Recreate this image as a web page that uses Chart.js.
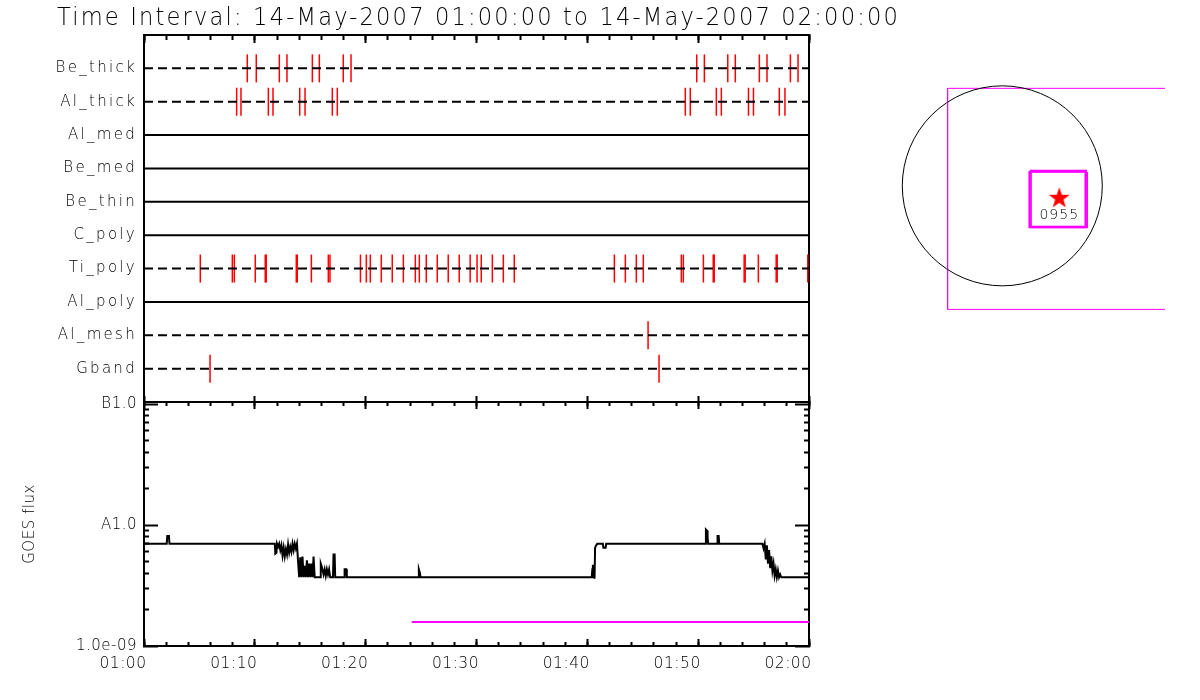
<!DOCTYPE html>
<html>
<head>
<meta charset="utf-8">
<title>RHESSI quicklook 14-May-2007</title>
<script src="https://cdn.jsdelivr.net/npm/chart.js@4.4.0/dist/chart.umd.min.js"></script>
<style>
  body { margin: 0; background: #fff; }
  #wrap { position: relative; width: 1200px; height: 700px; overflow: hidden; background: #fff; }
  canvas { position: absolute; }
  #topPanel { left: 0; top: 0; }
  #goesPanel { left: 0; top: 395px; }
  #mapPanel { left: 880px; top: 70px; }
</style>
</head>
<body>
<div id="wrap">
  <canvas id="topPanel" width="900" height="405" style="width:900px;height:405px"></canvas>
  <canvas id="goesPanel" width="900" height="305" style="width:900px;height:305px"></canvas>
  <canvas id="mapPanel" width="320" height="260" style="width:320px;height:260px"></canvas>
</div>
<script>
'use strict';

//////////////// data ///////////////////

let titleText = 'Time Interval: 14-May-2007 01:00:00 to 14-May-2007 02:00:00';

let rowLabels = ['Be_thick', 'Al_thick', 'Al_med', 'Be_med', 'Be_thin', 'C_poly', 'Ti_poly', 'Al_poly', 'Al_mesh', 'Gband'];
let dashedRows = ['Be_thick', 'Al_thick', 'Ti_poly', 'Al_mesh', 'Gband'];

// state changes, minutes after 01:00
let beThickTimes = [9.32, 10.13, 12.21, 12.90, 15.19, 15.82, 17.98, 18.68, 49.87, 50.56, 52.67, 53.35, 55.52, 56.21, 58.32, 59.01];
let alThickTimes = [8.36, 8.75, 11.22, 11.64, 14.05, 14.53, 16.99, 17.44, 48.84, 49.29, 51.64, 52.09, 54.54, 54.99, 57.32, 57.83];
let tiPolyTimes = [5.08, 7.97, 8.15, 10.04, 10.94, 11.03, 13.74, 13.83, 15.10, 16.63, 16.78, 19.53, 20.06, 20.42,
  21.41, 22.40, 23.40, 24.48, 24.84, 25.47, 26.46, 27.45, 28.44, 29.43, 30.05, 30.43, 31.43, 32.42, 33.41,
  42.44, 43.43, 44.42, 45.05, 48.48, 48.66, 50.47, 51.36, 51.45, 54.15, 54.24, 55.43, 57.04, 57.13, 59.89];
let alMeshTimes = [45.48];
let gbandTimes = [5.96, 46.47];

let timeTicks = [0, 10, 20, 30, 40, 50, 60];
let timeLabels = ['01:00', '01:10', '01:20', '01:30', '01:40', '01:50', '02:00'];

// GOES flux (W/m^2)
let goesTime = [0, 2.05, 2.1, 2.25, 2.3, 11.8, 11.85, 11.95, 12.0, 12.1, 12.2, 12.3, 12.4, 12.5, 12.6, 12.7, 12.8, 12.9,
  13.0, 13.1, 13.2, 13.3, 13.4, 13.5, 13.6, 13.7, 13.8, 13.9, 14.0, 14.1, 14.2, 14.3, 14.4, 14.5, 14.6, 14.7, 14.8, 14.9,
  15.0, 15.1, 15.2, 15.3, 15.4, 15.9, 15.95, 16.05, 16.1, 16.2, 16.3, 16.4, 16.5, 16.6, 16.7, 16.8, 17.05, 17.1, 17.2,
  17.25, 18.05, 18.1, 18.25, 18.3, 24.75, 24.8, 24.9, 24.95, 40.4, 40.45, 40.5, 40.55, 40.6, 40.65, 40.7, 40.8, 40.9,
  41.4, 41.45, 41.65, 41.7, 50.65, 50.7, 50.8, 50.85, 50.9, 51.7, 51.75, 51.85, 51.9, 55.8, 55.9, 56.0, 56.1, 56.2,
  56.3, 56.4, 56.5, 56.6, 56.7, 56.8, 56.9, 57.0, 57.1, 57.2, 57.3, 57.4, 57.5, 60];
let goesFlux = [7.0e-9, 7.0e-9, 8.1e-9, 8.1e-9, 7.0e-9, 7.0e-9, 5.8e-9, 5.9e-9, 7.0e-9, 6.6e-9, 7.0e-9, 6.2e-9, 6.8e-9,
  5.6e-9, 6.5e-9, 5.5e-9, 6.3e-9, 5.7e-9, 6.9e-9, 5.9e-9, 6.6e-9, 6.0e-9, 7.0e-9, 6.2e-9, 7.0e-9, 6.4e-9, 7.0e-9,
  5.0e-9, 3.7e-9, 5.4e-9, 3.7e-9, 5.5e-9, 3.7e-9, 4.6e-9, 3.7e-9, 5.1e-9, 3.7e-9, 4.8e-9, 3.7e-9, 4.8e-9, 3.7e-9,
  5.5e-9, 3.7e-9, 3.7e-9, 4.8e-9, 4.5e-9, 4.3e-9, 3.9e-9, 4.3e-9, 3.8e-9, 4.3e-9, 3.9e-9, 4.3e-9, 3.7e-9, 3.7e-9,
  5.7e-9, 5.7e-9, 3.7e-9, 3.7e-9, 4.3e-9, 4.3e-9, 3.7e-9, 3.7e-9, 4.3e-9, 4.0e-9, 3.7e-9, 3.7e-9, 4.3e-9, 4.7e-9,
  3.7e-9, 4.6e-9, 3.6e-9, 6.5e-9, 6.8e-9, 7.0e-9, 7.0e-9, 6.5e-9, 6.5e-9, 7.0e-9, 7.0e-9, 9.2e-9, 9.0e-9, 8.0e-9,
  7.0e-9, 7.0e-9, 8.1e-9, 8.1e-9, 7.0e-9, 7.0e-9, 6.4e-9, 7.0e-9, 5.2e-9, 6.8e-9, 4.8e-9, 6.2e-9, 4.4e-9, 5.5e-9,
  4.2e-9, 4.8e-9, 3.8e-9, 4.3e-9, 3.7e-9, 4.2e-9, 3.7e-9, 3.9e-9, 3.7e-9, 3.7e-9];

let levelTime = [24.15, 60];
let levelFlux = [1.58e-9, 1.58e-9];

let fluxTicks = [1e-9, 1e-8, 1e-7];
let fluxLabels = ['1.0e-09', 'A1.0', 'B1.0'];

// locator map, arcsec
let limbRadius = 960;
let fovX = [2000, -525, -525, 2000];
let fovY = [936, 936, -1186, -1186];
let boxX = [263, 801, 801, 263, 263];
let boxY = [142, 142, -396, -396, 142];
let box2X = [279, 817, 817, 279, 279];
let box2Y = [130, 130, -402, -402, 130];
let regionX = [547];
let regionY = [-105];
let regionLabels = ['0955'];

//////////////// helpers //////////////////////////////

const FONT = 'DejaVu Sans';
const RED = '#ff0000';
const MAGENTA = '#ff00ff';

function toPoints(xs, ys) {
  let pts = [];
  for (let i = 0; i < xs.length; i++) {
    pts.push({ x: xs[i], y: ys[i] });
  }
  return pts;
}

let minorTimes = [];
for (let t = 0; t <= 60; t += 2) {
  minorTimes.push(t);
}
let minorFlux = [];
[1e-9, 1e-8].forEach(function (d) {
  for (let k = 2; k <= 9; k++) minorFlux.push(k * d);
});

// chart.js pads the plot for end labels; the panels must line up exactly
function noPad(scale) {
  scale.paddingLeft = 0;
  scale.paddingRight = 0;
  scale.paddingTop = 0;
  scale.paddingBottom = 0;
}

// a bare axis that only draws inward tick marks
function tickAxis(position, values, len, weight, showBorder, axisMin, axisMax, type, size) {
  let vertical = position === 'left' || position === 'right';
  return {
    type: type || 'linear',
    position: position,
    min: axisMin,
    max: axisMax,
    weight: weight,
    afterBuildTicks: function (scale) {
      scale.ticks = values.map(function (v) { return { value: v }; });
    },
    ticks: { display: false },
    grid: { drawOnChartArea: false, tickLength: -len, tickWidth: 2, tickColor: '#000' },
    border: { display: showBorder, color: '#000', width: 2 },
    afterFit: function (scale) {
      if (vertical) scale.width = size || 0; else scale.height = size || 0;
      noPad(scale);
    }
  };
}

const spacingPlugin = {
  id: 'letterSpacing',
  beforeDraw: function (chart, args, opts) {
    chart.ctx.letterSpacing = opts.value || '0px';
  }
};

//////////////// top panel: filter states //////////////////////////

let topDatasets = [];
let rowEvents = {
  Be_thick: beThickTimes,
  Al_thick: alThickTimes,
  Ti_poly: tiPolyTimes,
  Al_mesh: alMeshTimes,
  Gband: gbandTimes
};

for (let i = 0; i < rowLabels.length; i++) {
  topDatasets.push({
    data: [{ x: 0, y: i + 1 }, { x: 60, y: i + 1 }],
    showLine: true,
    borderColor: '#000',
    borderWidth: 2,
    borderDash: dashedRows.indexOf(rowLabels[i]) >= 0 ? [9, 5] : [],
    pointRadius: 0
  });
}
for (let i = 0; i < rowLabels.length; i++) {
  let times = rowEvents[rowLabels[i]];
  if (!times) continue;
  topDatasets.push({
    data: times.map(function (t) { return { x: t, y: i + 1 }; }),
    showLine: false,
    pointStyle: 'line',
    rotation: 90,
    pointRadius: 14,
    pointBorderColor: RED,
    pointBorderWidth: 1.5
  });
}

new Chart(document.getElementById('topPanel'), {
  type: 'scatter',
  data: { datasets: topDatasets },
  plugins: [spacingPlugin],
  options: {
    responsive: false,
    animation: false,
    events: [],
    layout: { autoPadding: false, padding: { left: 57, right: 0, top: 0, bottom: 3 } },
    plugins: {
      legend: { display: false },
      tooltip: { enabled: false },
      letterSpacing: { value: '2.3px' },
      title: {
        display: true,
        text: titleText,
        align: 'start',
        color: '#000',
        font: { family: FONT, size: 24, weight: 200, lineHeight: 1.2 },
        padding: { top: 4, bottom: 2.2 }
      }
    },
    scales: {
      x: tickAxis('bottom', timeTicks, 6, 0, true, 0, 60),
      xTop: tickAxis('top', timeTicks, 8, 1, true, 0, 60),
      xTopMinor: tickAxis('top', minorTimes, 5, 0, false, 0, 60),
      y: {
        type: 'linear',
        position: 'left',
        min: 0,
        max: 11,
        reverse: true,
        afterBuildTicks: function (scale) {
          scale.ticks = rowLabels.map(function (n, i) { return { value: i + 1 }; });
        },
        ticks: {
          color: '#000',
          padding: 7,
          font: { family: FONT, size: 15, weight: 200 },
          callback: function (value) { return rowLabels[value - 1]; }
        },
        grid: { display: false, drawTicks: false },
        border: { display: true, color: '#000', width: 2 },
        afterFit: function (scale) { scale.width = 87; noPad(scale); }
      },
      yRight: {
        type: 'linear',
        position: 'right',
        min: 0,
        max: 11,
        ticks: { display: false },
        grid: { display: false, drawTicks: false },
        border: { display: true, color: '#000', width: 2 },
        afterFit: function (scale) { scale.width = 91; noPad(scale); }
      }
    }
  }
});

//////////////// lower panel: GOES flux //////////////////////////

let fluxMax = 1.04e-7;

new Chart(document.getElementById('goesPanel'), {
  type: 'scatter',
  data: {
    datasets: [{
      data: toPoints(goesTime, goesFlux),
      showLine: true,
      borderColor: '#000',
      borderWidth: 2,
      pointRadius: 0
    }, {
      data: toPoints(levelTime, levelFlux),
      showLine: true,
      borderColor: MAGENTA,
      borderWidth: 2,
      pointRadius: 0
    }]
  },
  plugins: [spacingPlugin],
  options: {
    responsive: false,
    animation: false,
    events: [],
    layout: { autoPadding: false, padding: { left: 0, right: 91, top: 0, bottom: 0 } },
    plugins: {
      legend: { display: false },
      tooltip: { enabled: false },
      letterSpacing: { value: '0.5px' }
    },
    scales: {
      x: {
        type: 'linear',
        position: 'bottom',
        min: 0,
        max: 60,
        weight: 1,
        afterBuildTicks: function (scale) {
          scale.ticks = timeTicks.map(function (v) { return { value: v }; });
        },
        ticks: {
          color: '#000',
          padding: 16,
          labelOffset: -21,
          maxRotation: 0,
          font: { family: FONT, size: 15.5, weight: 200 },
          callback: function (value, index) { return timeLabels[index]; }
        },
        grid: { drawOnChartArea: false, tickLength: -7, tickWidth: 2, tickColor: '#000' },
        border: { display: true, color: '#000', width: 2 },
        afterFit: function (scale) { scale.height = 54; noPad(scale); }
      },
      xMinor: tickAxis('bottom', minorTimes, 4, 0, false, 0, 60),
      xTop: tickAxis('top', timeTicks, 7, 1, true, 0, 60, 'linear', 7),
      xTopMinor: tickAxis('top', minorTimes, 4, 0, false, 0, 60),
      y: {
        type: 'logarithmic',
        position: 'left',
        min: 1e-9,
        max: fluxMax,
        weight: 1,
        afterBuildTicks: function (scale) {
          scale.ticks = fluxTicks.map(function (v) { return { value: v }; });
        },
        ticks: {
          color: '#000',
          padding: 21,
          font: { family: FONT, size: 15, weight: 200 },
          callback: function (value, index) { return fluxLabels[index]; }
        },
        title: {
          display: true,
          text: 'GOES flux',
          color: '#000',
          font: { family: FONT, size: 15, weight: 200 },
          padding: { top: 21, bottom: 0 }
        },
        grid: { drawOnChartArea: false, tickLength: -14, tickWidth: 2, tickColor: '#000' },
        border: { display: true, color: '#000', width: 2 },
        afterFit: function (scale) { scale.width = 144; noPad(scale); }
      },
      yMinor: tickAxis('left', minorFlux, 5, 0, false, 1e-9, fluxMax, 'logarithmic'),
      yR: tickAxis('right', fluxTicks, 14, 1, true, 1e-9, fluxMax, 'logarithmic'),
      yRMinor: tickAxis('right', minorFlux, 5, 0, false, 1e-9, fluxMax, 'logarithmic')
    }
  }
});

//////////////// locator map //////////////////////////

function makeStar(size, color) {
  let c = document.createElement('canvas');
  c.width = size;
  c.height = size;
  let g = c.getContext('2d');
  let r = size / 2;
  g.fillStyle = color;
  g.beginPath();
  for (let i = 0; i < 10; i++) {
    let rad = i % 2 === 0 ? r : r * 0.4;
    let a = -Math.PI / 2 + i * Math.PI / 5;
    let px = r + rad * Math.cos(a);
    let py = r + 1.5 + rad * Math.sin(a);
    if (i === 0) g.moveTo(px, py); else g.lineTo(px, py);
  }
  g.closePath();
  g.fill();
  return c;
}

const regionLabelPlugin = {
  id: 'regionLabels',
  afterDatasetsDraw: function (chart) {
    let meta = chart.getDatasetMeta(4);
    let ctx = chart.ctx;
    ctx.save();
    ctx.fillStyle = '#000';
    ctx.font = '200 14px ' + FONT;
    ctx.letterSpacing = '1px';
    ctx.textAlign = 'center';
    ctx.textBaseline = 'middle';
    meta.data.forEach(function (el, i) {
      ctx.fillText(regionLabels[i], el.x, el.y + 19);
    });
    ctx.restore();
  }
};

new Chart(document.getElementById('mapPanel'), {
  type: 'scatter',
  data: {
    datasets: [{
      // solar limb, radius taken from the x scale
      data: [{ x: 0, y: 0 }],
      pointStyle: 'circle',
      pointRadius: function (ctx) {
        let s = ctx.chart.scales.x;
        return Math.abs(s.getPixelForValue(limbRadius) - s.getPixelForValue(0));
      },
      pointBackgroundColor: 'rgba(0,0,0,0)',
      pointBorderColor: '#000',
      pointBorderWidth: 1
    }, {
      data: toPoints(fovX, fovY),
      showLine: true,
      borderColor: MAGENTA,
      borderWidth: 1,
      pointRadius: 0
    }, {
      data: toPoints(boxX, boxY),
      showLine: true,
      borderColor: MAGENTA,
      borderWidth: 2.5,
      pointRadius: 0
    }, {
      data: toPoints(box2X, box2Y),
      showLine: true,
      borderColor: MAGENTA,
      borderWidth: 1,
      pointRadius: 0
    }, {
      data: toPoints(regionX, regionY),
      pointStyle: makeStar(22, RED),
      pointRadius: 11
    }]
  },
  plugins: [regionLabelPlugin],
  options: {
    responsive: false,
    animation: false,
    events: [],
    layout: { autoPadding: false, padding: { left: 10, right: 35, top: 10, bottom: 10 } },
    plugins: { legend: { display: false }, tooltip: { enabled: false } },
    scales: {
      x: { type: 'linear', display: false, min: -1078, max: 1562 },
      y: { type: 'linear', display: false, min: -1288, max: 1016 }
    }
  }
});
</script>
</body>
</html>
